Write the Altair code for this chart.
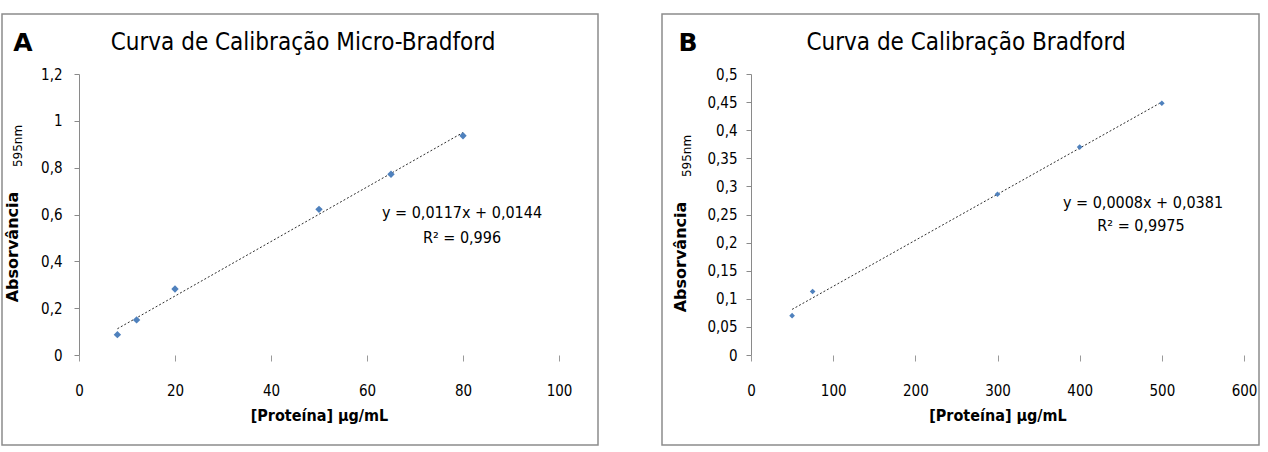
import altair as alt
import pandas as pd

# Panel A: Micro-Bradford
a_conc = [8, 12, 20, 50, 65, 80]
a_abs = [0.087, 0.150, 0.282, 0.622, 0.772, 0.936]
a_yticks = [0, 0.2, 0.4, 0.6, 0.8, 1.0, 1.2]
a_xticks = [0, 20, 40, 60, 80, 100]

# Panel B: Bradford
b_conc = [50, 75, 300, 400, 500]
b_abs = [0.070, 0.113, 0.286, 0.370, 0.448]
b_yticks = [0, 0.05, 0.1, 0.15, 0.2, 0.25, 0.3, 0.35, 0.4, 0.45, 0.5]
b_xticks = [0, 100, 200, 300, 400, 500, 600]

FONT = "DejaVu Sans Condensed"
FONT2 = "DejaVu Sans"
BLUE = "#4F81BD"
LBL = "replace(format(datum.value, '~g'), '.', ',')"


def txt(s, x, y, size=15, weight="normal", angle=0, align="center", font=FONT):
    return alt.Chart(pd.DataFrame({"t": [s]})).mark_text(
        font=font, fontSize=size, fontWeight=weight, angle=angle,
        align=align, baseline="middle", color="#000000"
    ).encode(x=alt.value(x), y=alt.value(y), text="t:N")


def panel(xs, ys, xdom, ydom, xticks, yticks, w, h, size, ylabpad,
          letter, title, eq1, eq2, frame, pos):
    df = pd.DataFrame({"x": xs, "y": ys})
    base = alt.Chart(df)
    xax = alt.Axis(values=xticks, tickCount=len(xticks) + 5, labelExpr=LBL,
                   domain=False, ticks=True, tickColor="#9a9a9a", tickSize=6,
                   labelPadding=22, labelFlush=False,
                   labelFont=FONT, labelFontSize=15, labelColor="#000000",
                   labelOverlap=False, grid=False, title="[Proteína] µg/mL",
                   titleFont=FONT, titleFontSize=16, titleFontWeight="bold",
                   titleColor="#000000", titlePadding=9)
    yax = alt.Axis(values=yticks, tickCount=len(yticks) + 5, labelExpr=LBL,
                   domain=True, domainColor="#8a8a8a",
                   ticks=True, tickColor="#8a8a8a", tickSize=5, labelPadding=ylabpad,
                   labelFlush=False,
                   labelFont=FONT, labelFontSize=15, labelColor="#000000",
                   labelOverlap=False, grid=False, title=None)
    pts = base.mark_point(shape="diamond", filled=True, size=size, color=BLUE,
                          opacity=1).encode(
        x=alt.X("x:Q", scale=alt.Scale(domain=xdom, nice=False), axis=xax),
        y=alt.Y("y:Q", scale=alt.Scale(domain=ydom, nice=False), axis=yax),
    )
    reg = base.transform_regression("x", "y").mark_line(
        color="#2e2e2e", strokeDash=[2, 2], strokeWidth=1
    ).encode(x="x:Q", y="y:Q")
    fx0, fx1, fy0, fy1 = frame
    rect = alt.Chart(pd.DataFrame({"k": [0]})).mark_rect(
        fillOpacity=0, stroke="#8c8c8c", strokeWidth=1.5
    ).encode(x=alt.value(fx0), x2=alt.value(fx1), y=alt.value(fy0), y2=alt.value(fy1))
    layers = [rect, reg, pts,
              txt(letter, pos["letter"][0], pos["letter"][1], size=25, weight="bold",
                  font=FONT2),
              txt(title, pos["title"][0], pos["title"][1], size=24),
              txt("Absorvância", pos["ytitle"][0], pos["ytitle"][1], size=16,
                  weight="bold", angle=270, font=FONT2),
              txt("595nm", pos["ysub"][0], pos["ysub"][1], size=12, angle=270,
                  font=FONT2),
              txt(eq1, pos["eq1"][0], pos["eq1"][1], size=16),
              txt(eq2, pos["eq2"][0], pos["eq2"][1], size=16)]
    return alt.layer(*layers).properties(width=w, height=h)


A = panel(a_conc, a_abs, [0, 100], [0, 1.2], a_xticks, a_yticks, 480, 281, 55, 12,
          "A", "Curva de Calibração Micro-Bradford",
          "y = 0,0117x + 0,0144", "R² = 0,996",
          (-77, 519, -60, 371),
          {"letter": (-56, -31), "title": (224, -31), "ytitle": (-66, 173),
           "ysub": (-61, 72), "eq1": (383, 139), "eq2": (383, 164)})

B = panel(b_conc, b_abs, [0, 600], [0, 0.5], b_xticks, b_yticks, 493, 281, 32, 9,
          "B", "Curva de Calibração Bradford",
          "y = 0,0008x + 0,0381", "R² = 0,9975",
          (-89, 508, -60, 371),
          {"letter": (-63, -31), "title": (215, -31), "ytitle": (-70, 183),
           "ysub": (-64, 82), "eq1": (392, 129), "eq2": (390, 152)})

chart = alt.hconcat(A, B, spacing=192, bounds="flush").properties(
    padding={"left": 1, "top": 13, "right": 0, "bottom": 0},
    background="white",
).configure_view(stroke=None)

chart.save("out.html", embed_options={"renderer": "svg", "actions": False})
